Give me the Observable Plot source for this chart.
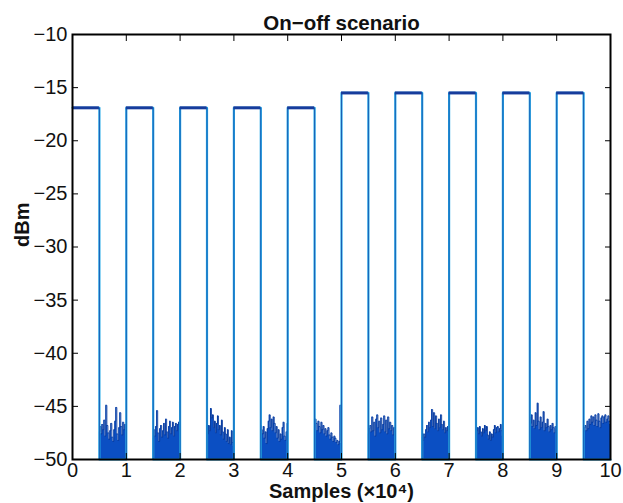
<!DOCTYPE html>
<html><head><meta charset="utf-8">
<script src="https://cdn.jsdelivr.net/npm/d3@7"></script>
<script src="https://cdn.jsdelivr.net/npm/@observablehq/plot@0.6"></script>
<style>html,body{margin:0;padding:0;background:#fff;}</style>
</head><body><div id="chart"></div>
<script>
const titleText = "On−off scenario";
const xLabel = "Samples (×10⁴)";
const yLabel = "dBm";
const xTicks = [0,1,2,3,4,5,6,7,8,9,10];
const yTicks = [-50,-45,-40,-35,-30,-25,-20,-15,-10];
const pulseStarts = [0,1,2,3,4,5,6,7,8,9];
const onLevels = [-16.9,-16.9,-16.9,-16.9,-16.9,-15.5,-15.5,-15.5,-15.5,-15.5];
const offStarts = [0.5,1.5,2.5,3.5,4.5,5.5,6.5,7.5,8.5,9.5];
const floorLevel = -50;
const n1 = [-47.4,-46.9,-47.6,-46.7,-47.2,-46.3,-47.8,-44.9,-46.8,-47.5,-48.1,-47.3,-46.6,-47.9,-48.3,-47.2,-46.4,-45.1,-47.6,-48.2,-47.0,-45.6,-46.9,-47.7,-46.5,-47.2,-46.7,-47.0];
const n2 = [-48.0,-47.2,-47.8,-46.9,-45.4,-47.5,-48.3,-47.1,-46.8,-47.9,-47.3,-46.6,-47.7,-46.2,-47.4,-48.0,-46.9,-46.4,-47.6,-47.0,-46.5,-47.8,-46.9,-46.6,-47.3,-46.7,-46.5,-47.0];
const n3 = [-47.1,-47.6,-46.8,-47.3,-45.2,-46.1,-45.8,-47.0,-46.4,-47.5,-46.6,-45.9,-47.2,-46.8,-47.7,-46.3,-47.4,-48.1,-47.0,-47.6,-48.3,-47.2,-48.5,-47.9,-48.6,-47.3,-48.4,-48.8];
const n4 = [-46.8,-47.2,-47.6,-46.9,-48.0,-47.4,-48.5,-47.1,-46.4,-45.8,-47.0,-46.2,-47.3,-46.0,-46.6,-47.5,-46.9,-48.0,-47.2,-48.3,-47.6,-48.1,-47.0,-46.5,-47.8,-48.2,-47.4,-46.6];
const n5 = [-47.0,-46.2,-46.6,-47.3,-46.4,-46.9,-47.5,-46.5,-47.2,-46.8,-47.6,-47.1,-47.8,-47.3,-47.0,-47.7,-48.1,-47.5,-47.9,-48.3,-47.8,-48.0,-48.4,-48.2,-48.6,-48.3,-44.9,-48.5];
const n6 = [-47.6,-47.1,-46.8,-47.4,-46.0,-47.3,-46.5,-47.8,-46.2,-45.8,-47.0,-46.4,-47.5,-46.1,-47.2,-46.7,-45.9,-47.4,-46.3,-47.6,-46.0,-47.1,-46.5,-47.3,-46.8,-47.7,-47.0,-47.4];
const n7 = [-47.9,-48.2,-47.6,-47.9,-47.2,-46.8,-47.4,-46.5,-47.0,-46.3,-45.3,-46.9,-45.6,-47.1,-45.9,-46.6,-47.3,-46.2,-47.0,-45.8,-46.7,-47.2,-46.4,-47.5,-47.0,-47.3,-46.9,-47.4];
const n8 = [-46.8,-47.3,-47.0,-47.6,-46.9,-47.4,-47.8,-47.1,-47.5,-46.8,-47.3,-46.9,-47.7,-48.1,-47.4,-48.2,-47.6,-47.9,-47.2,-46.8,-47.5,-47.0,-46.9,-47.4,-47.1,-46.7,-47.3,-47.8];
const n9 = [-46.0,-46.6,-45.8,-46.9,-46.3,-47.1,-45.6,-46.8,-44.7,-46.4,-47.2,-46.0,-47.0,-46.5,-45.5,-47.3,-46.6,-47.0,-46.2,-46.9,-47.4,-46.8,-47.2,-46.6,-47.0,-47.5,-46.9,-47.2];
const n10 = [-47.4,-47.0,-46.8,-47.3,-46.4,-47.1,-46.2,-46.7,-45.9,-46.5,-46.0,-46.8,-45.8,-46.3,-46.9,-45.7,-46.4,-47.0,-46.1,-45.9,-46.6,-46.0,-45.8,-46.5,-46.2,-45.9,-46.4,-46.7];
const noiseSegments = [n1,n2,n3,n4,n5,n6,n7,n8,n9,n10];
const halfPeriod = 0.5;

const noise = [];
noiseSegments.forEach((arr, s) => {
  arr.forEach((v, i) => noise.push({seg: s, x: offStarts[s] + halfPeriod * i / (arr.length - 1), y: v}));
});
const wave = [];
pulseStarts.forEach((p, i) => {
  wave.push({x: p, y: onLevels[i]});
  wave.push({x: p + halfPeriod, y: onLevels[i]});
  wave.push({x: p + halfPeriod, y: floorLevel});
  wave.push({x: p + 2 * halfPeriod, y: floorLevel});
});
const tops = pulseStarts.map((p, i) => ({x1: p, x2: p + halfPeriod, y: onLevels[i]}));

const chart = Plot.plot({
  width: 623, height: 503,
  marginLeft: 72, marginRight: 13, marginTop: 34, marginBottom: 44,
  style: {fontFamily: "'Liberation Sans', Arial, Helvetica, sans-serif", fontSize: "20px", background: "#fff", color: "#111"},
  x: {domain: [0, 10]},
  y: {domain: [-50, -10]},
  marks: [
    Plot.areaY(noise, {x: "x", y1: floorLevel, y2: "y", z: "seg", fill: "#0b4fc3", curve: "step"}),
    Plot.lineY(noise, {x: "x", y: "y", z: "seg", stroke: "#0a3c9e", strokeWidth: 0.9, curve: "step"}),
    Plot.line(wave, {x: "x", y: "y", stroke: "#25a9e8", strokeWidth: 2.2}),
    Plot.line(wave, {x: "x", y: "y", stroke: "#123f9e", strokeWidth: 0.7}),
    Plot.ruleY(tops, {x1: "x1", x2: "x2", y: "y", stroke: "#173c9c", strokeWidth: 3}),
    Plot.frame({stroke: "#000", strokeWidth: 2}),
    Plot.axisX(xTicks, {anchor: "bottom", tickSize: 0, tickPadding: 3, label: null, fontSize: 20}),
    Plot.axisY(yTicks, {anchor: "left", tickSize: 0, tickPadding: 5, label: null, fontSize: 20}),
    Plot.axisX(xTicks, {anchor: "bottom", tickSize: -6, tickFormat: () => "", label: null, stroke: "#000"}),
    Plot.axisX(xTicks, {anchor: "top", tickSize: -6, tickFormat: () => "", label: null, stroke: "#000"}),
    Plot.axisY(yTicks, {anchor: "left", tickSize: -6, tickFormat: () => "", label: null, stroke: "#000"}),
    Plot.axisY(yTicks, {anchor: "right", tickSize: -6, tickFormat: () => "", label: null, stroke: "#000"}),
    Plot.text([titleText], {frameAnchor: "top", lineAnchor: "bottom", dy: -5, text: d => d, fontWeight: "bold", fontSize: 20.5}),
    Plot.text([xLabel], {frameAnchor: "bottom", lineAnchor: "middle", dy: 32, text: d => d, fontWeight: "bold", fontSize: 20}),
    Plot.text([yLabel], {frameAnchor: "left", dx: -50, rotate: -90, text: d => d, fontWeight: "bold", fontSize: 20})
  ]
});
document.getElementById("chart").appendChild(chart);
</script></body></html>
